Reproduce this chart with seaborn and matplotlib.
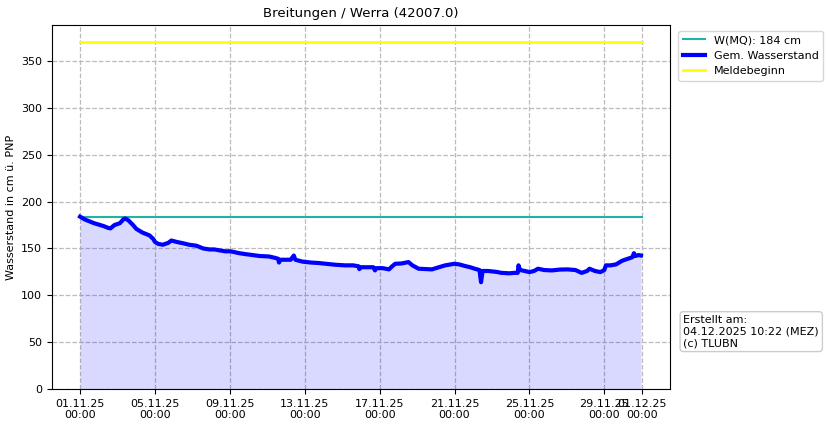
import numpy as np
import pandas as pd
import matplotlib
matplotlib.use("Agg")
import matplotlib.pyplot as plt
import matplotlib.dates as mdates
import seaborn as sns

title = "Breitungen / Werra (42007.0)"
start = "2025-11-01 00:00"
end = "2025-12-01 00:00"
mq_value = 184
meld_value = 370
tick_dates = ["2025-11-01", "2025-11-05", "2025-11-09", "2025-11-13", "2025-11-17",
              "2025-11-21", "2025-11-25", "2025-11-29", "2025-12-01"]

hours = [0, 6, 12, 18, 24, 30, 36, 39, 44, 51, 56, 58, 62, 68, 72, 80, 89, 94, 96, 100,
         106, 113, 117, 124, 132, 140, 149, 158, 166, 172, 179, 186, 193, 204, 212, 221,
         230, 242, 250, 254, 255, 257, 264, 270, 274, 276, 285, 296, 306, 317, 328, 340,
         350, 357, 358, 360, 370, 376, 378, 380, 388, 396, 400, 404, 412, 421, 426, 434,
         444, 451, 460, 468, 480, 486, 494, 500, 506, 512, 514, 516, 523, 534, 540, 550,
         557, 561, 562, 564, 570, 576, 582, 587, 595, 605, 615, 625, 635, 643, 650, 653,
         660, 667, 672, 674, 680, 687, 695, 702, 708, 710, 712, 716, 719]
levels = [184, 181, 179, 177, 175.5, 174, 172, 171.5, 175, 177, 181.5, 182, 180, 175, 171,
          167, 164, 160, 157, 155, 154, 156, 158.5, 157, 155.6, 154, 153, 150, 149, 149,
          148, 147, 147, 145, 144, 143, 142, 141.5, 140, 139, 135, 138, 138, 138, 142.5,
          138, 136, 135, 134.5, 133.5, 132.6, 132, 132, 131, 128, 130, 130, 130, 126.6,
          129, 129, 127.7, 131, 133.7, 134, 135.5, 132, 128.4, 128, 127.7, 130, 132, 133.7,
          133, 131.2, 130, 128.4, 127, 114, 126, 126, 125, 124, 123.5, 124, 124, 132, 127,
          126, 124.8, 126, 128.4, 127, 126.6, 127.5, 127.7, 127, 124, 126, 128.4, 126,
          124.8, 127, 132, 132, 133, 137, 139, 140.7, 145, 142, 143, 142.5]

t0 = pd.Timestamp(start)
df = pd.DataFrame({"time": t0 + pd.to_timedelta(hours, unit="h"), "level": levels})
ref = pd.DataFrame({"time": [pd.Timestamp(start), pd.Timestamp(end)]})
ref["mq"] = mq_value
ref["meld"] = meld_value

fig = plt.figure(figsize=(8.29, 4.26), dpi=100)
ax = fig.add_axes([0.0627, 0.0869, 0.808 - 0.0627, 0.941 - 0.0869])

sns.lineplot(data=ref, x="time", y="mq", ax=ax, color="#20b2aa", lw=1.5,
             label=f"W(MQ): {mq_value} cm")
sns.lineplot(data=df, x="time", y="level", ax=ax, color="blue", lw=3,
             label="Gem. Wasserstand")
sns.lineplot(data=ref, x="time", y="meld", ax=ax, color="yellow", lw=2,
             label="Meldebeginn")
ax.fill_between(df["time"], 0, df["level"], color="blue", alpha=0.15, lw=0)

ax.set_ylim(bottom=0)
ax.margins(x=0.05)
ax.set_xticks(pd.to_datetime(tick_dates))
ax.xaxis.set_major_formatter(mdates.DateFormatter("%d.%m.%y\n%H:%M"))
ax.tick_params(labelsize=8)
ax.grid(True, ls="--", color="#bbbbbb", lw=0.9)
ax.set_axisbelow(True)
ax.set_xlabel("")
ax.set_ylabel("Wasserstand in cm ü. PNP", fontsize=8)
ax.set_title(title, fontsize=9.5)

ax.legend(loc="upper left", bbox_to_anchor=(1.005, 1.0), fontsize=8, frameon=True)
ax.text(1.022, 0.112, "Erstellt am:\n04.12.2025 10:22 (MEZ)\n(c) TLUBN",
        transform=ax.transAxes, fontsize=8, va="bottom", ha="left",
        bbox=dict(boxstyle="round,pad=0.3", fc="white", ec="#cccccc"))

fig.savefig("out.png", dpi=100)
